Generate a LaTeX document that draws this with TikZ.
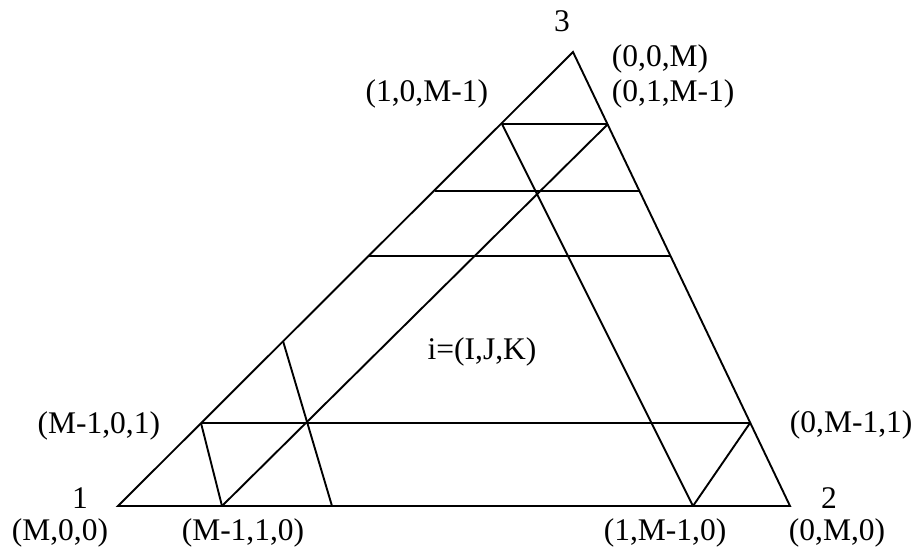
\documentclass[tikz,border=0pt]{standalone}
\usepackage{fontspec}
\setmainfont{Liberation Serif}
\begin{document}
\begin{tikzpicture}[x=1pt, y=-1pt, line width=1.9pt,
  lbl/.style={inner sep=0pt, font=\fontsize{31.5}{36}\selectfont}]
  \useasboundingbox (0,0) rectangle (917,557);
  % corners of the triangle
  \coordinate (v1) at (118,506);
  \coordinate (v2) at (790,506);
  \coordinate (v3) at (573,52);
  % ends of the horizontal rows
  \coordinate (h1l) at (502,124); \coordinate (h1r) at (608,124);
  \coordinate (h2l) at (435,191); \coordinate (h2r) at (639,191);
  \coordinate (h3l) at (369,256); \coordinate (h3r) at (671,256);
  \coordinate (h4l) at (201,423); \coordinate (h4r) at (750,423);
  % points on the base and on the left side
  \coordinate (b1) at (222,506);
  \coordinate (b2) at (332,506);
  \coordinate (b3) at (693,506);
  \coordinate (p1) at (283,341);
  \draw (v1) -- (v2) -- (v3) -- cycle;
  \draw (h1l) -- (h1r);
  \draw (h2l) -- (h2r);
  \draw (h3l) -- (h3r);
  \draw (h4l) -- (h4r);
  \draw (b1) -- (h1r);
  \draw (h1l) -- (b3);
  \draw (p1) -- (b2);
  \draw (h4l) -- (b1);
  \draw (h4r) -- (b3);
  % labels
  \node[lbl] (n3) at (562,21) {3};
  \node[lbl, anchor=west] (c3a) at (611,59) {(0,0,M)};
  \node[lbl, anchor=west] (c3b) at (611,94) {(0,1,M-1)};
  \node[lbl, anchor=east] (c3c) at (489,94) {(1,0,M-1)};
  \node[lbl] (ci) at (482,352) {i=(I,J,K)};
  \node[lbl, anchor=east] (c1a) at (161,426) {(M-1,0,1)};
  \node[lbl, anchor=west] (c2a) at (789,425) {(0,M-1,1)};
  \node[lbl] (n1) at (80,498) {1};
  \node[lbl] (n2) at (829,498) {2};
  \node[lbl] (c1) at (60,533) {(M,0,0)};
  \node[lbl] (c1b) at (243,533) {(M-1,1,0)};
  \node[lbl] (c2b) at (665,533) {(1,M-1,0)};
  \node[lbl] (c2) at (837,533) {(0,M,0)};
\end{tikzpicture}
\end{document}
